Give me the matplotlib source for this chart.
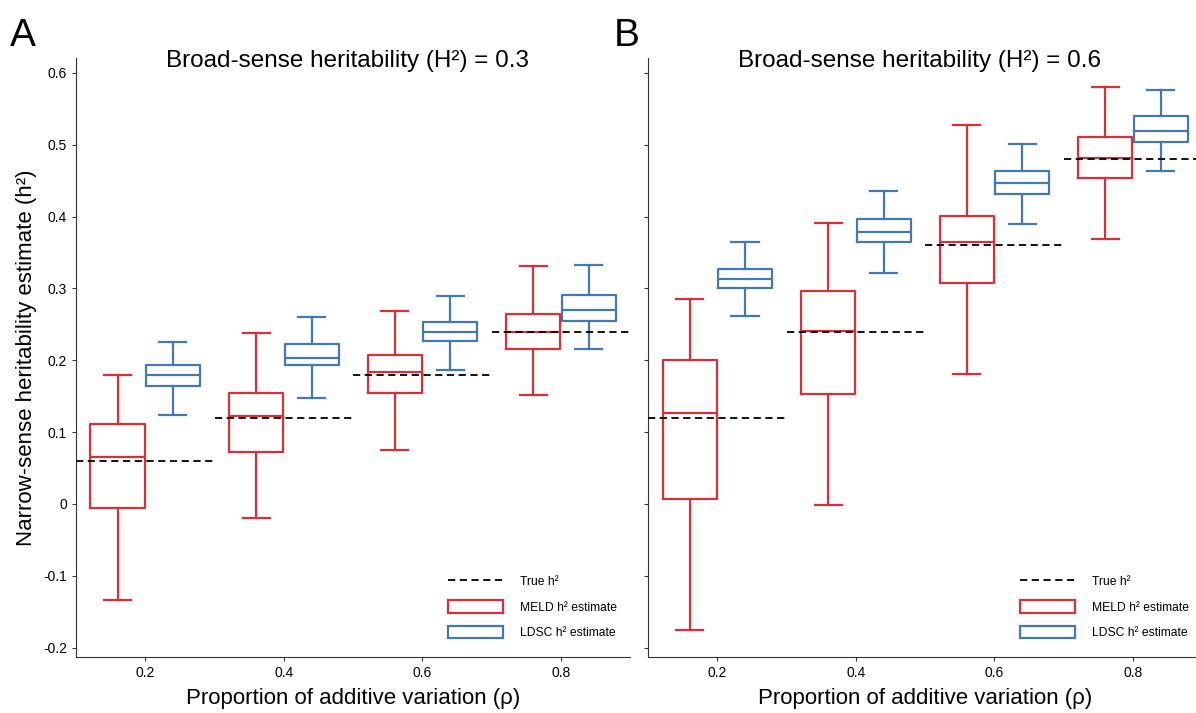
import matplotlib.pyplot as plt
from matplotlib.lines import Line2D
from matplotlib.patches import Patch

plt.rcParams['font.family'] = ['Liberation Sans', 'DejaVu Sans']

rho = [0.2, 0.4, 0.6, 0.8]
H2 = [0.3, 0.6]

# box stats: lower whisker, q1, median, q3, upper whisker
meld_lo_A = [-0.133, -0.020, 0.075, 0.152]
meld_q1_A = [-0.005, 0.073, 0.154, 0.216]
meld_md_A = [0.066, 0.123, 0.184, 0.240]
meld_q3_A = [0.111, 0.155, 0.208, 0.264]
meld_hi_A = [0.180, 0.238, 0.269, 0.331]

ldsc_lo_A = [0.124, 0.148, 0.186, 0.216]
ldsc_q1_A = [0.164, 0.193, 0.227, 0.255]
ldsc_md_A = [0.179, 0.203, 0.240, 0.270]
ldsc_q3_A = [0.194, 0.223, 0.253, 0.291]
ldsc_hi_A = [0.225, 0.260, 0.289, 0.333]

meld_lo_B = [-0.175, -0.001, 0.181, 0.369]
meld_q1_B = [0.007, 0.153, 0.308, 0.453]
meld_md_B = [0.127, 0.241, 0.365, 0.482]
meld_q3_B = [0.200, 0.297, 0.401, 0.511]
meld_hi_B = [0.285, 0.391, 0.527, 0.580]

ldsc_lo_B = [0.262, 0.322, 0.389, 0.464]
ldsc_q1_B = [0.300, 0.364, 0.432, 0.504]
ldsc_md_B = [0.313, 0.379, 0.446, 0.519]
ldsc_q3_B = [0.327, 0.396, 0.463, 0.540]
ldsc_hi_B = [0.365, 0.436, 0.501, 0.576]

red = '#d6313a'
blue = '#4578b1'


def stats(lo, q1, md, q3, hi):
    return [dict(whislo=a, q1=b, med=c, q3=d, whishi=e, fliers=[])
            for a, b, c, d, e in zip(lo, q1, md, q3, hi)]


def draw_boxes(ax, st, pos, color):
    ax.bxp(st, positions=pos, widths=0.078, showfliers=False,
           manage_ticks=False,
           boxprops=dict(color=color, linewidth=1.6),
           medianprops=dict(color=color, linewidth=1.6),
           whiskerprops=dict(color=color, linewidth=1.6),
           capprops=dict(color=color, linewidth=1.6), capwidths=0.039)


fig = plt.figure(figsize=(11.96, 7.13), dpi=100)
axA = fig.add_axes([0.0635, 0.0785, 0.4635, 0.840])
axB = fig.add_axes([0.5418, 0.0785, 0.4635, 0.840])

panels = [
    (axA, H2[0], stats(meld_lo_A, meld_q1_A, meld_md_A, meld_q3_A, meld_hi_A),
     stats(ldsc_lo_A, ldsc_q1_A, ldsc_md_A, ldsc_q3_A, ldsc_hi_A)),
    (axB, H2[1], stats(meld_lo_B, meld_q1_B, meld_md_B, meld_q3_B, meld_hi_B),
     stats(ldsc_lo_B, ldsc_q1_B, ldsc_md_B, ldsc_q3_B, ldsc_hi_B)),
]

for ax, h, meld, ldsc in panels:
    # true h2 = rho * H2
    for r in rho:
        ax.plot([r - 0.1, r + 0.1], [r * h, r * h], ls='--', c='black',
                lw=1.3, dashes=(4, 2.5), zorder=3)
    draw_boxes(ax, meld, [r - 0.04 for r in rho], red)
    draw_boxes(ax, ldsc, [r + 0.04 for r in rho], blue)

    ax.set_xlim(0.1, 0.9)
    ax.set_ylim(-0.213, 0.6205)
    ax.set_xticks(rho)
    ax.set_xticklabels([str(r) for r in rho])
    ax.set_yticks([-0.2, -0.1, 0, 0.1, 0.2, 0.3, 0.4, 0.5, 0.6])
    ax.spines['top'].set_visible(False)
    ax.spines['right'].set_visible(False)
    ax.spines['left'].set_color('#333333')
    ax.spines['bottom'].set_color('#333333')
    ax.tick_params(labelsize=10, length=3, color='#333333')
    ax.set_xlabel('Proportion of additive variation (\u03c1)', fontsize=16, labelpad=6)
    ax.text(0.49, 0.995, 'Broad-sense heritability (H\u00b2) = %s' % h,
            transform=ax.transAxes, ha='center', va='center', fontsize=17.5)

    handles = [Line2D([0], [0], ls='--', c='black', lw=1.3, dashes=(4, 2.5)),
               Patch(facecolor='white', edgecolor=red, linewidth=1.6),
               Patch(facecolor='white', edgecolor=blue, linewidth=1.6)]
    labels = ['True h\u00b2', 'MELD h\u00b2 estimate', 'LDSC h\u00b2 estimate']
    ax.legend(handles, labels, loc='lower right', frameon=False, fontsize=8.7,
              handlelength=4.6, handleheight=1.2, labelspacing=1.0,
              handletextpad=1.35, bbox_to_anchor=(0.995, 0.012))

axA.set_yticklabels(['-0.2', '-0.1', '0', '0.1', '0.2', '0.3', '0.4', '0.5', '0.6'])
axB.set_yticklabels([])
axA.set_ylabel('Narrow-sense heritability estimate (h\u00b2)', fontsize=16)

fig.text(0.008, 0.935, 'A', fontsize=28)
fig.text(0.513, 0.935, 'B', fontsize=28)

fig.savefig('out.png', dpi=100)
